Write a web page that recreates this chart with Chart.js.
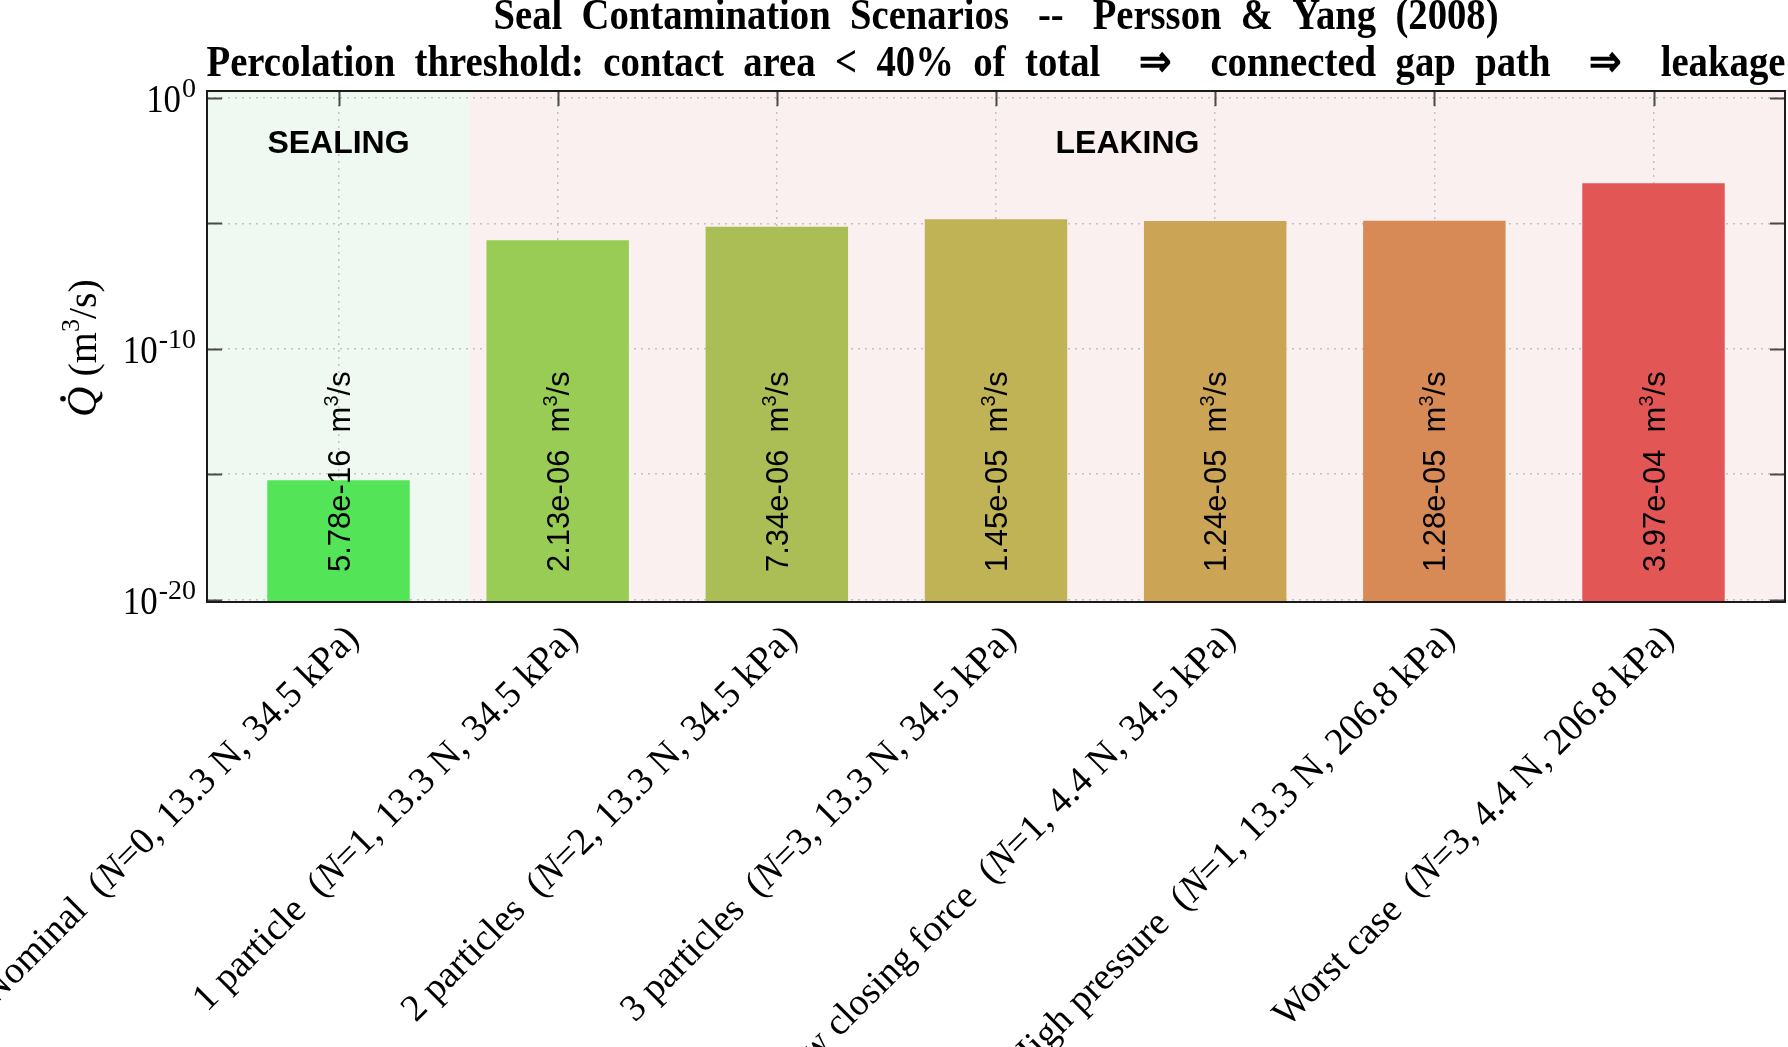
<!DOCTYPE html>
<html>
<head>
<meta charset="utf-8">
<script src="https://cdn.jsdelivr.net/npm/chart.js@4.4.0/dist/chart.umd.min.js"></script>
<style>
    html, body { margin: 0; padding: 0; background: #fff; }
    canvas { display: block; }
</style>
</head>
<body>
<canvas id="myChart" width="1788" height="1047"></canvas>
<script>
// scenario data
const scenarios = ['Nominal', '1 particle', '2 particles', '3 particles', 'Low closing force', 'High pressure', 'Worst case'];
const particleCounts = [0, 1, 2, 3, 1, 1, 3];
const closingForces = ['13.3', '13.3', '13.3', '13.3', '4.4', '13.3', '4.4'];
const pressures = ['34.5', '34.5', '34.5', '34.5', '34.5', '206.8', '206.8'];
const leakRates = [5.78e-16, 2.13e-6, 7.34e-6, 1.45e-5, 1.24e-5, 1.28e-5, 3.97e-4];
const barColors = ['#54e458', '#98cc55', '#abbd55', '#bfb355', '#cba455', '#d78a55', '#e25656'];

// shaded regions (in category units) and their labels
const regionNames = ['SEALING', 'LEAKING'];
const regionStart = [-0.6, 0.6];
const regionEnd = [0.6, 6.6];
const regionColors = ['#f0f9f1', '#faf0f0'];

// y axis: grid every 5 decades, labels every 10
const yGridValues = [1, 1e-5, 1e-10, 1e-15, 1e-20];
const yLabelExponents = [0, -10, -20];

const titleLines = [
    'Seal  Contamination  Scenarios   --   Persson  &  Yang  (2008)',
    'Percolation  threshold:  contact  area  <  40%  of  total    \u21D2    connected  gap  path    \u21D2    leakage'
];

function expLabel(v) {
    const [m, e] = v.toExponential(2).split('e');
    const n = Math.abs(parseInt(e, 10));
    return m + 'e' + (parseInt(e, 10) < 0 ? '-' : '+') + String(n).padStart(2, '0');
}

const serif = '"Liberation Serif", "Times New Roman", serif';
const sans = '"Liberation Sans", Arial, sans-serif';

const decorations = {
    id: 'decorations',
    beforeDraw(chart) {
        const ctx = chart.ctx;
        const area = chart.chartArea;
        const xs = chart.scales.x;
        ctx.save();
        ctx.fillStyle = '#ffffff';
        ctx.fillRect(0, 0, chart.width, chart.height);
        for (let i = 0; i < regionNames.length; i++) {
            const x0 = xs.getPixelForValue(regionStart[i]);
            const x1 = xs.getPixelForValue(regionEnd[i]);
            ctx.fillStyle = regionColors[i];
            ctx.fillRect(x0, area.top, x1 - x0, area.bottom - area.top);
        }
        ctx.restore();
    },
    afterDatasetsDraw(chart) {
        const ctx = chart.ctx;
        const xs = chart.scales.x;
        const ys = chart.scales.y;
        const yMid = ys.getPixelForValue(Math.pow(10, -14.9));
        ctx.save();
        ctx.fillStyle = '#000';
        for (let i = 0; i < leakRates.length; i++) {
            const x = xs.getPixelForValue(i);
            const main = expLabel(leakRates[i]) + '  m';
            ctx.font = '31px ' + sans;
            const w1 = ctx.measureText(main).width;
            const w3 = ctx.measureText('/s').width;
            ctx.font = '20px ' + sans;
            const w2 = ctx.measureText('3').width;
            const total = w1 + w2 + w3;
            ctx.save();
            ctx.translate(x + 11, yMid);
            ctx.rotate(-Math.PI / 2);
            ctx.textBaseline = 'alphabetic';
            ctx.textAlign = 'left';
            let p = -total / 2;
            ctx.font = '31px ' + sans;
            ctx.fillText(main, p, 0);
            p += w1;
            ctx.font = '20px ' + sans;
            ctx.fillText('3', p, -12);
            p += w2;
            ctx.font = '31px ' + sans;
            ctx.fillText('/s', p, 0);
            ctx.restore();
        }
        // region labels
        ctx.font = 'bold 32px ' + sans;
        ctx.textAlign = 'center';
        ctx.textBaseline = 'middle';
        for (let i = 0; i < regionNames.length; i++) {
            const c = (regionStart[i] + regionEnd[i]) / 2;
            ctx.fillText(regionNames[i], xs.getPixelForValue(c), 144);
        }
        ctx.restore();
    },
    afterDraw(chart) {
        const ctx = chart.ctx;
        const area = chart.chartArea;
        const xs = chart.scales.x;
        const ys = chart.scales.y;
        ctx.save();

        // inner tick marks
        ctx.strokeStyle = '#4a4a4a';
        ctx.lineWidth = 2;
        ctx.beginPath();
        yGridValues.forEach(v => {
            const y = Math.round(ys.getPixelForValue(v)) + 0.5;
            ctx.moveTo(area.left, y); ctx.lineTo(area.left + 15, y);
            ctx.moveTo(area.right, y); ctx.lineTo(area.right - 15, y);
        });
        scenarios.forEach((s, i) => {
            const x = Math.round(xs.getPixelForValue(i)) + 0.5;
            ctx.moveTo(x, area.top); ctx.lineTo(x, area.top + 15);
        });
        ctx.stroke();

        // frame
        ctx.strokeStyle = '#1a1a1a';
        ctx.lineWidth = 2;
        ctx.strokeRect(area.left, area.top, area.right - area.left, area.bottom - area.top);

        // title
        const cx = (area.left + area.right) / 2;
        const titleY = [18, 65];
        const titleWidths = [1005, 1579];
        ctx.fillStyle = '#000';
        ctx.font = 'bold 44px ' + serif;
        ctx.textAlign = 'center';
        ctx.textBaseline = 'middle';
        titleLines.forEach((line, i) => {
            const w = ctx.measureText(line).width;
            ctx.save();
            ctx.translate(cx, titleY[i]);
            ctx.scale(titleWidths[i] / w, 1);
            ctx.fillText(line, 0, 0);
            ctx.restore();
        });

        // y tick labels 10^n
        ctx.textAlign = 'right';
        ctx.textBaseline = 'alphabetic';
        yLabelExponents.forEach(e => {
            const y = ys.getPixelForValue(Math.pow(10, e));
            const right = area.left - 11;
            ctx.font = '28px ' + serif;
            const ex = String(e);
            const we = ctx.measureText(ex).width;
            ctx.fillText(ex, right, y - 1);
            ctx.save();
            ctx.translate(right - we - 1, y + 14);
            ctx.scale(0.85, 1);
            ctx.font = '41px ' + serif;
            ctx.fillText('10', 0, 0);
            ctx.restore();
        });

        // y axis title  Q-dot (m^3/s)
        ctx.save();
        ctx.translate(85, 348);
        ctx.rotate(-Math.PI / 2);
        ctx.textAlign = 'left';
        ctx.textBaseline = 'middle';
        ctx.font = 'italic 42px ' + serif;
        const wq = ctx.measureText('Q').width;
        ctx.font = '40px ' + serif;
        const wa = ctx.measureText(' (m').width;
        const wc = ctx.measureText('/s)').width;
        ctx.font = '26px ' + serif;
        const wb = ctx.measureText('3').width;
        let p = -(wq + wa + wb + wc) / 2;
        ctx.font = 'italic 42px ' + serif;
        ctx.fillText('Q', p, 0);
        ctx.beginPath();
        ctx.arc(p + wq * 0.6, -22, 2.8, 0, Math.PI * 2);
        ctx.fill();
        p += wq;
        ctx.font = '40px ' + serif;
        ctx.fillText(' (m', p, 0);
        p += wa;
        ctx.font = '26px ' + serif;
        ctx.fillText('3', p, -13);
        p += wb;
        ctx.font = '40px ' + serif;
        ctx.fillText('/s)', p, 0);
        ctx.restore();

        // x tick labels, rotated 45 degrees
        scenarios.forEach((s, i) => {
            const x = xs.getPixelForValue(i);
            const parts = [
                [s + '  (', '38px ' + serif],
                ['N', 'italic 38px ' + serif],
                ['=' + particleCounts[i] + ', ' + closingForces[i] + ' N, ' + pressures[i] + ' kPa)', '38px ' + serif]
            ];
            let total = 0;
            const widths = parts.map(pt => { ctx.font = pt[1]; const w = ctx.measureText(pt[0]).width; total += w; return w; });
            ctx.save();
            ctx.translate(x + 22, area.bottom + 38);
            ctx.rotate(-Math.PI / 4);
            ctx.textAlign = 'left';
            ctx.textBaseline = 'alphabetic';
            let q = -total;
            parts.forEach((pt, k) => {
                ctx.font = pt[1];
                ctx.fillText(pt[0], q, 0);
                q += widths[k];
            });
            ctx.restore();
        });

        ctx.restore();
    }
};

const ctx = document.getElementById('myChart').getContext('2d');
const myChart = new Chart(ctx, {
    type: 'bar',
    data: {
        datasets: [{
            data: leakRates.map((v, i) => ({ x: i, y: v })),
            backgroundColor: barColors,
            borderWidth: 0,
            barPercentage: 0.65,
            categoryPercentage: 1.0,
            base: 8e-21
        }]
    },
    options: {
        responsive: false,
        animation: false,
        devicePixelRatio: 1,
        layout: { padding: { left: 0, right: 3, top: 91, bottom: 0 } },
        plugins: {
            legend: { display: false },
            title: { display: false },
            tooltip: { enabled: false }
        },
        scales: {
            x: {
                type: 'linear',
                min: -0.6,
                max: 6.6,
                offset: false,
                afterBuildTicks: scale => { scale.ticks = scenarios.map((s, i) => ({ value: i })); },
                afterFit: scale => { scale.height = 445; },
                ticks: { display: false },
                grid: { color: '#c2c2c2', lineWidth: 1.5, drawTicks: false, offset: false },
                border: { display: false, dash: [2, 5] }
            },
            y: {
                type: 'logarithmic',
                min: 8e-21,
                max: 1.9,
                afterBuildTicks: scale => { scale.ticks = yGridValues.map(v => ({ value: v })); },
                afterFit: scale => { scale.width = 207; },
                ticks: { display: false },
                grid: { color: '#c2c2c2', lineWidth: 1.5, drawTicks: false },
                border: { display: false, dash: [2, 5] }
            }
        }
    },
    plugins: [decorations]
});
</script>
</body>
</html>
